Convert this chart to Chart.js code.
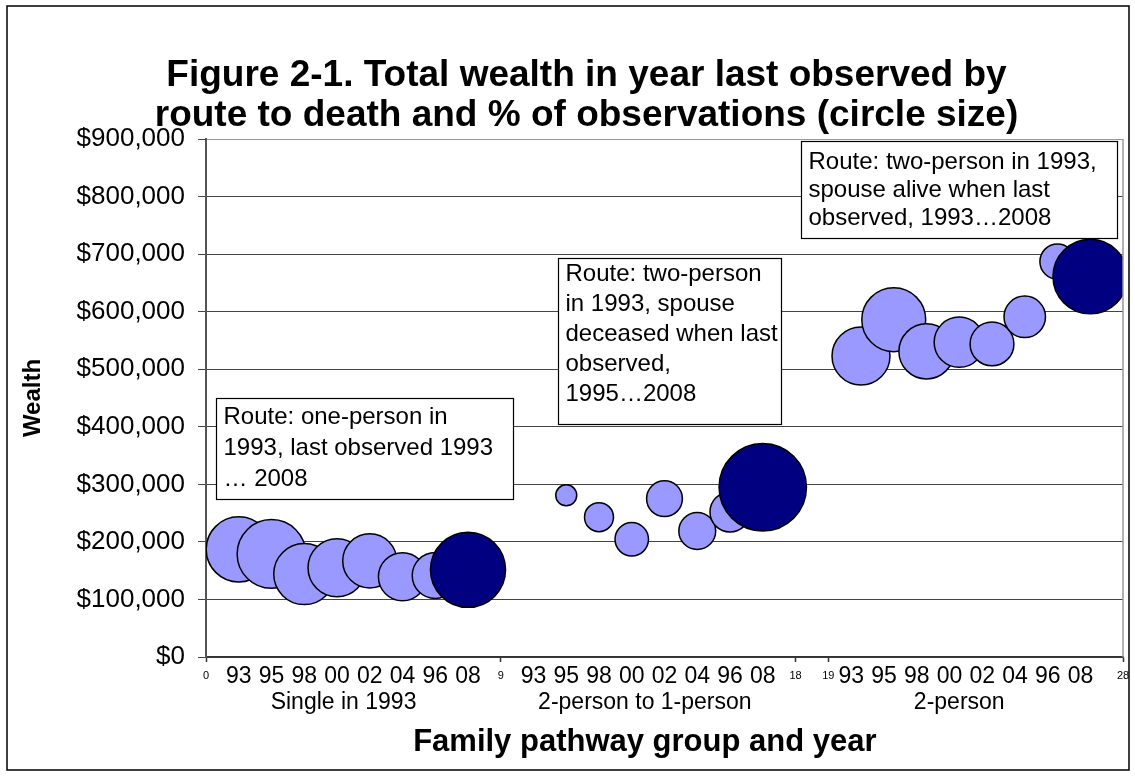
<!DOCTYPE html>
<html>
<head>
<meta charset="utf-8">
<title>Figure 2-1</title>
<script src="https://cdn.jsdelivr.net/npm/chart.js@4.4.1/dist/chart.umd.min.js"></script>
<style>
  html, body { margin: 0; padding: 0; background: #fff; }
  #wrap { width: 1135px; height: 776px; position: relative; }
</style>
</head>
<body>
<div id="wrap"><canvas id="grafico"></canvas></div>
<script>
// x position of each observed year, by family pathway group
const xSingle = [1, 2, 3, 4, 5, 6, 7, 8];
const xToOne = [11, 12, 13, 14, 15, 16, 17];
const xTwo = [20, 21, 22, 23, 24, 25, 26, 27];

// total wealth in year last observed ($)
const wealthSingle = [187000, 179000, 144000, 155000, 167000, 139500, 141500, 151500];
const wealthToOne = [281000, 243000, 204500, 275000, 219000, 252000, 295000];
const wealthTwo = [523000, 586000, 531000, 547000, 544000, 591000, 687000, 661000];

// % of observations (circle size)
const shareSingle = [10.6, 11.8, 9.3, 8.4, 7.3, 5.8, 5.3, 14.1];
const shareToOne = [1.1, 2.1, 2.8, 3.2, 3.4, 4.0, 19.1];
const shareTwo = [8.4, 10.2, 7.6, 6.3, 4.8, 4.3, 3.1, 13.9];

// axis labels
const yearLabels = ["93", "95", "98", "00", "02", "04", "96", "08"];
const yearStarts = [1, 10, 19.7];
const groupNames = ["Single in 1993", "2-person to 1-person", "2-person"];
const groupCenters = [4.2, 13.4, 23.0];
const boundaryTicks = [0, 9, 18, 19, 28];
const xTitle = "Family pathway group and year";

// route notes, anchored at (x, wealth) of their top-left corner
const routeNotes = [
    { x: 0.3, y: 450000, w: 297, h: 101, first: 19, gap: 31,
      lines: ["Route: one-person in", "1993, last observed 1993", "\u2026 2008"] },
    { x: 10.75, y: 693000, w: 223, h: 166, first: 16, gap: 30,
      lines: ["Route: two-person", "in 1993, spouse", "deceased when last", "observed,", "1995\u20262008"] },
    { x: 18.17, y: 896000, w: 316, h: 97, first: 21, gap: 28,
      lines: ["Route: two-person in 1993,", "spouse alive when last", "observed, 1993\u20262008"] }
];

const FONT = 'Arial, "Liberation Sans", sans-serif';
Chart.defaults.font.family = FONT;
Chart.defaults.color = "#000";

function bubbleRadius(share) {
    return 10 * Math.sqrt(share);
}

function groupPoints(xs, ws, ss) {
    return xs.map((x, i) => ({ x: x, y: ws[i], r: bubbleRadius(ss[i]) }));
}

const groups = [
    groupPoints(xSingle, wealthSingle, shareSingle),
    groupPoints(xToOne, wealthToOne, shareToOne),
    groupPoints(xTwo, wealthTwo, shareTwo)
];

// last observed year of each group is drawn dark
const lastPoints = groups.map(g => g[g.length - 1]);
const otherPoints = groups.flatMap(g => g.slice(0, -1));

// x tick labels: small boundary numbers, years, and group names on a second line
const xLabelMap = new Map();
boundaryTicks.forEach(v => xLabelMap.set(v, String(v)));
yearStarts.forEach(start => {
    yearLabels.forEach((lab, i) => xLabelMap.set(+(start + i).toFixed(2), lab));
});
groupCenters.forEach((c, i) => xLabelMap.set(c, ["", groupNames[i]]));

const framePlugin = {
    id: "frame",
    beforeDraw(chart) {
        const ctx = chart.ctx;
        ctx.save();
        ctx.fillStyle = "#fff";
        ctx.fillRect(0, 0, chart.width, chart.height);
        ctx.restore();
    },
    afterDraw(chart) {
        const ctx = chart.ctx;
        const a = chart.chartArea;
        ctx.save();
        // right edge of plot area
        ctx.strokeStyle = "#999";
        ctx.lineWidth = 1.5;
        ctx.beginPath();
        ctx.moveTo(a.right, a.top);
        ctx.lineTo(a.right, a.bottom);
        ctx.stroke();
        // x axis title, centred under the middle group
        ctx.fillStyle = "#000";
        ctx.font = "bold 31px " + FONT;
        ctx.textAlign = "center";
        ctx.textBaseline = "middle";
        ctx.fillText(xTitle, chart.scales.x.getPixelForValue(groupCenters[1]), 742);
        // outer chart border
        ctx.strokeStyle = "#000";
        ctx.lineWidth = 1.5;
        ctx.strokeRect(7, 6, chart.width - 13, chart.height - 12);
        ctx.restore();
    }
};

const notesPlugin = {
    id: "routeNotes",
    afterDatasetsDraw(chart) {
        const ctx = chart.ctx;
        const xs = chart.scales.x;
        const ys = chart.scales.y;
        ctx.save();
        routeNotes.forEach(n => {
            const left = Math.round(xs.getPixelForValue(n.x)) + 0.5;
            const top = Math.round(ys.getPixelForValue(n.y)) + 0.5;
            ctx.fillStyle = "#fff";
            ctx.fillRect(left, top, n.w, n.h);
            ctx.strokeStyle = "#000";
            ctx.lineWidth = 1.2;
            ctx.strokeRect(left, top, n.w, n.h);
            ctx.fillStyle = "#000";
            ctx.font = "24px " + FONT;
            ctx.textBaseline = "middle";
            ctx.textAlign = "left";
            n.lines.forEach((t, i) => {
                ctx.fillText(t, left + 7, top + n.first + n.gap * i);
            });
        });
        ctx.restore();
    }
};

new Chart(document.getElementById("grafico"), {
    type: "bubble",
    data: {
        datasets: [
            {
                label: "Last observed",
                data: lastPoints,
                backgroundColor: "#000080",
                borderColor: "#000",
                borderWidth: 1.5,
                clip: 0
            },
            {
                label: "Earlier years",
                data: otherPoints,
                backgroundColor: "#9999ff",
                borderColor: "#000",
                borderWidth: 1.5,
                clip: 0
            }
        ]
    },
    options: {
        responsive: true,
        maintainAspectRatio: false,
        devicePixelRatio: 1,
        animation: false,
        events: [],
        layout: { autoPadding: false, padding: { left: 50, right: 12, top: 10, bottom: 0 } },
        plugins: {
            legend: { display: false },
            tooltip: { enabled: false },
            title: {
                display: true,
                text: ["Figure 2-1. Total wealth in year last observed by",
                       "route to death and % of observations (circle size)"],
                font: { size: 37, weight: "bold", lineHeight: 1.1 },
                color: "#000",
                padding: { top: 45, bottom: 2.6 }
            }
        },
        scales: {
            x: {
                type: "linear",
                position: "bottom",
                min: 0,
                max: 28,
                afterBuildTicks(axis) {
                    axis.ticks = Array.from(xLabelMap.keys())
                        .sort((a, b) => a - b)
                        .map(v => ({ value: v }));
                },
                afterFit(axis) {
                    axis.height = 119;
                },
                ticks: {
                    autoSkip: false,
                    maxRotation: 0,
                    minRotation: 0,
                    padding: 1,
                    color: "#000",
                    callback: value => xLabelMap.get(+value.toFixed(2)),
                    font: ctx => boundaryTicks.includes(ctx.tick && ctx.tick.value)
                        ? { size: 11, lineHeight: 2.4 }
                        : { size: 23, lineHeight: 1.15 }
                },
                grid: {
                    drawOnChartArea: false,
                    tickLength: 5,
                    tickWidth: 1.5,
                    tickColor: ctx => boundaryTicks.includes(ctx.tick && ctx.tick.value) ? "#333" : "rgba(0,0,0,0)"
                },
                border: { display: true, color: "#333", width: 1.5 }
            },
            y: {
                min: 0,
                max: 900000,
                afterFit(axis) {
                    axis.width = 156;
                },
                ticks: {
                    stepSize: 100000,
                    padding: 13,
                    color: "#000",
                    font: { size: 26 },
                    callback: value => "$" + value.toLocaleString("en-US")
                },
                grid: {
                    color: ctx => ctx.tick && ctx.tick.value === 900000 ? "#999" : "#444",
                    lineWidth: 1,
                    tickLength: 8,
                    tickColor: "#444"
                },
                border: { display: true, color: "#555", width: 2 },
                title: {
                    display: true,
                    text: "Wealth",
                    font: { size: 24, weight: "bold", lineHeight: 1.2 },
                    color: "#000",
                    padding: { top: -31, bottom: 0 }
                }
            }
        }
    },
    plugins: [framePlugin, notesPlugin]
});
</script>
</body>
</html>
